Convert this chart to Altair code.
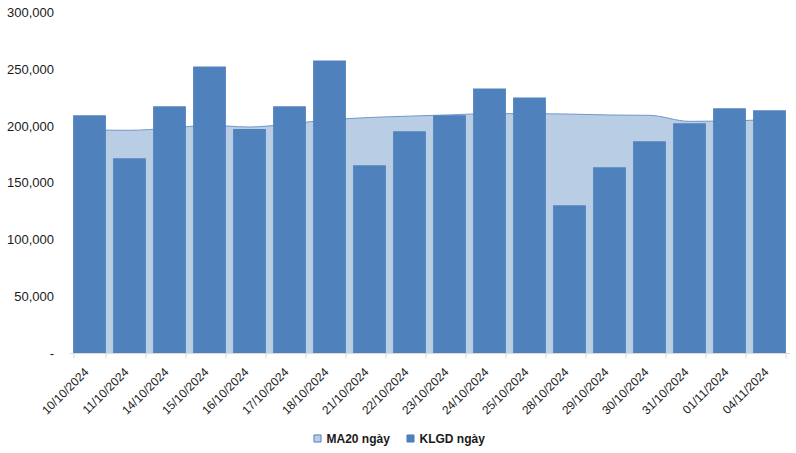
import altair as alt
import pandas as pd

dates = ["10/10/2024", "11/10/2024", "14/10/2024", "15/10/2024", "16/10/2024",
         "17/10/2024", "18/10/2024", "21/10/2024", "22/10/2024", "23/10/2024",
         "24/10/2024", "25/10/2024", "28/10/2024", "29/10/2024", "30/10/2024",
         "31/10/2024", "01/11/2024", "04/11/2024"]
klgd = [209400, 171600, 217300, 252500, 197400, 217300, 257800, 165400, 195300,
        209400, 233100, 225200, 130200, 163600, 186500, 202400, 215600, 213800]
ma20 = [196600, 196200, 198100, 200600, 199100, 201900, 205400, 207500, 208700,
        209800, 210900, 210900, 210500, 209700, 209400, 204100, 204400, 205900]
series_names = ["MA20 ngày", "KLGD ngày"]
series_colors = ["#B9CDE5", "#4F81BD"]

df = pd.DataFrame({"date": dates, "klgd": klgd, "ma20": ma20})

FONT = "Liberation Sans"

x_enc = alt.X(
    "date:N", sort=dates, title=None,
    scale=alt.Scale(paddingInner=0.18, paddingOuter=0.09),
    axis=alt.Axis(labelAngle=-45, labelFont=FONT, labelFontSize=12,
                  labelColor="#1a1a1a", domainColor="#D9D9D9", tickColor="#D9D9D9",
                  tickSize=5, tickBand="extent", labelPadding=8, labelOffset=-7,
                  grid=False),
)
y_scale = alt.Scale(domain=[0, 300000], nice=False)
y_axis = alt.Axis(values=[0, 50000, 100000, 150000, 200000, 250000, 300000],
                  labelExpr="datum.value == 0 ? '-\u00a0\u00a0' : format(datum.value, ',')",
                  labelFont=FONT, labelFontSize=13, labelColor="#1a1a1a",
                  domain=False, ticks=False, grid=False, labelPadding=16)

color_scale = alt.Scale(domain=series_names, range=series_colors)
legend = alt.Legend(title=None, orient="none", legendX=242, legendY=420,
                    direction="horizontal", symbolType="square", symbolSize=50,
                    symbolStrokeColor="#4F81BD", symbolStrokeWidth=1,
                    labelFont=FONT, labelFontSize=12, labelFontWeight="bold",
                    labelColor="#1a1a1a", columnPadding=14, labelOffset=3)

base = alt.Chart(df)

area = base.transform_calculate(series="'MA20 ngày'").mark_area(
    opacity=1, interpolate="monotone").encode(
    x=x_enc,
    y=alt.Y("ma20:Q", scale=y_scale, axis=y_axis, title=None),
    color=alt.Color("series:N", scale=color_scale, legend=legend),
)
line = base.mark_line(color="#7097CC", strokeWidth=1, interpolate="monotone").encode(
    x=alt.X("date:N", sort=dates),
    y=alt.Y("ma20:Q"),
)
bars = base.transform_calculate(series="'KLGD ngày'").mark_bar().encode(
    x=alt.X("date:N", sort=dates),
    y=alt.Y("klgd:Q"),
    color=alt.Color("series:N", scale=color_scale, legend=legend),
)

chart = alt.layer(area, line, bars).properties(
    width=720, height=340.5,
    autosize=alt.AutoSizeParams(type="none"),
    padding={"left": 69.5, "top": 12.5, "right": 6.5, "bottom": 100},
).configure_view(stroke=None)

chart.save("out.html", embed_options={"renderer": "svg", "actions": False})
